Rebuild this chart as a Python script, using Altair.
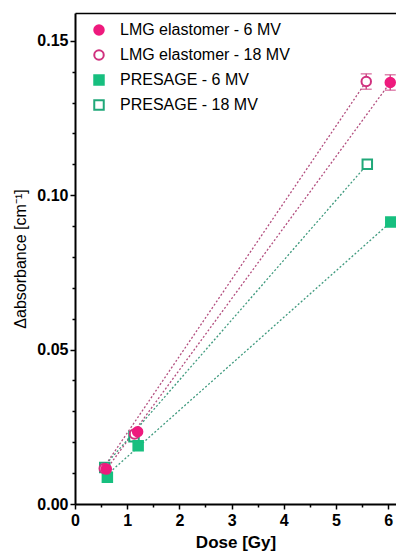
import altair as alt
import pandas as pd

# ---- data ----
series_names = ["LMG elastomer - 6 MV", "LMG elastomer - 18 MV", "PRESAGE - 6 MV", "PRESAGE - 18 MV"]
fill_colors = ["#ee1a7d", "#ffffff", "#17bf7f", "#ffffff"]
stroke_colors = ["#ee1a7d", "#d0307e", "#17bf7f", "#20a879"]
shapes = ["circle", "circle", "square", "square"]

dose_lmg6 = [0.60, 1.20, 6.04]
abs_lmg6 = [0.0113, 0.0234, 0.1365]
dose_lmg18 = [0.56, 1.14, 5.58]
abs_lmg18 = [0.0115, 0.0227, 0.1368]
dose_pr6 = [0.62, 1.21, 6.05]
abs_pr6 = [0.0087, 0.0189, 0.0913]
dose_pr18 = [0.57, 1.13, 5.60]
abs_pr18 = [0.0118, 0.0218, 0.1100]

# error bars (only visible on the highest LMG points)
err_dose = [6.04, 5.58]
err_center = [0.1365, 0.1368]
err_half = [0.0025, 0.0025]

# dotted fit lines: start / end points
fit_series = ["LMG elastomer - 6 MV", "LMG elastomer - 18 MV", "PRESAGE - 6 MV", "PRESAGE - 18 MV"]
fit_x0 = [0.55, 0.55, 0.55, 0.55]
fit_y0 = [0.0100, 0.0118, 0.0085, 0.0120]
fit_x1 = [6.04, 5.58, 6.05, 5.60]
fit_y1 = [0.1365, 0.1368, 0.0913, 0.1100]
fit_colors = ["#b34f7f", "#b34f7f", "#3f9a7e", "#3f9a7e"]

x_ticks = [0, 1, 2, 3, 4, 5, 6]
x_minor = [0.5, 1.5, 2.5, 3.5, 4.5, 5.5]
y_ticks = [0.0, 0.05, 0.10, 0.15]
y_minor = [0.01, 0.02, 0.03, 0.04, 0.06, 0.07, 0.08, 0.09, 0.11, 0.12, 0.13, 0.14]

# ---- tables ----
rows = []
order = [("PRESAGE - 18 MV", dose_pr18, abs_pr18), ("PRESAGE - 6 MV", dose_pr6, abs_pr6),
         ("LMG elastomer - 18 MV", dose_lmg18, abs_lmg18), ("LMG elastomer - 6 MV", dose_lmg6, abs_lmg6)]
for name, xs, ys in order:
    for xv, yv in zip(xs, ys):
        rows.append({"series": name, "dose": xv, "absorb": yv})
pts = pd.DataFrame(rows)

lines_rows = []
for s, a, b, c, d, col in zip(fit_series, fit_x0, fit_y0, fit_x1, fit_y1, fit_colors):
    lines_rows.append({"series": s, "dose": a, "absorb": b, "lc": col})
    lines_rows.append({"series": s, "dose": c, "absorb": d, "lc": col})
lines = pd.DataFrame(lines_rows)

err = pd.DataFrame({"dose": err_dose, "lo": [c - h for c, h in zip(err_center, err_half)],
                    "hi": [c + h for c, h in zip(err_center, err_half)]})

FONT = "Liberation Sans"
xscale = alt.Scale(domain=[0, 6.15], nice=False, zero=False)
yscale = alt.Scale(domain=[0, 0.159], nice=False, zero=False)

x_axis = alt.Axis(values=x_ticks, format="d", title="Dose [Gy]", orient="bottom",
                  labelFont=FONT, labelFontSize=16, labelFontWeight="bold", labelColor="black",
                  titleFont=FONT, titleFontSize=17, titleFontWeight="bold", titleColor="black",
                  domainColor="black", domainWidth=2, tickColor="black", tickWidth=1.5, tickSize=5,
                  grid=False, labelPadding=3, titlePadding=6, labelFlush=False)
y_axis = alt.Axis(values=y_ticks, format=".2f", title="Δabsorbance [cm⁻¹]", orient="left",
                  labelFont=FONT, labelFontSize=16, labelFontWeight="bold", labelColor="black",
                  titleFont=FONT, titleFontSize=16, titleFontWeight="normal", titleColor="black",
                  domainColor="black", domainWidth=2, tickColor="black", tickWidth=1.5, tickSize=5,
                  grid=False, labelPadding=2, titlePadding=8, labelFlush=False)
x_axis_minor = alt.Axis(values=x_minor, labels=False, title=None, orient="bottom", domain=False,
                        tickColor="black", tickWidth=1.5, tickSize=3, grid=False)
y_axis_minor = alt.Axis(values=y_minor, labels=False, title=None, orient="left", domain=False,
                        tickColor="black", tickWidth=1.5, tickSize=3, grid=False)
x_axis_top = alt.Axis(labels=False, ticks=False, title=None, orient="top", domain=True,
                      domainColor="black", domainWidth=1.5, grid=False)

line_layer = alt.Chart(lines).mark_line(strokeDash=[2, 2], strokeWidth=1.3).encode(
    x=alt.X("dose:Q", scale=xscale, axis=x_axis),
    y=alt.Y("absorb:Q", scale=yscale, axis=y_axis),
    detail="series:N",
    color=alt.Color("lc:N", scale=None),
)

minor_layer = alt.Chart(lines).mark_line(opacity=0).encode(
    x=alt.X("dose:Q", scale=xscale, axis=x_axis_minor),
    y=alt.Y("absorb:Q", scale=yscale, axis=y_axis_minor),
    detail="series:N",
)

top_layer = alt.Chart(lines).mark_line(opacity=0).encode(
    x=alt.X("dose:Q", scale=xscale, axis=x_axis_top),
    y=alt.Y("absorb:Q", scale=yscale, axis=None),
    detail="series:N",
)

ecol = "#d0508c"
err_rule = alt.Chart(err).mark_rule(color=ecol, strokeWidth=1.5).encode(
    x=alt.X("dose:Q", axis=None), y=alt.Y("lo:Q", axis=None), y2="hi:Q")
err_cap_lo = alt.Chart(err).mark_tick(color=ecol, orient="horizontal", size=11, thickness=1.5).encode(
    x=alt.X("dose:Q", axis=None), y=alt.Y("lo:Q", axis=None))
err_cap_hi = alt.Chart(err).mark_tick(color=ecol, orient="horizontal", size=11, thickness=1.5).encode(
    x=alt.X("dose:Q", axis=None), y=alt.Y("hi:Q", axis=None))

legend = alt.Legend(title=None, orient="none", legendX=16, legendY=9, labelFont=FONT,
                    labelFontSize=16, labelColor="black", symbolSize=90, symbolStrokeWidth=2,
                    rowPadding=7, labelOffset=13, padding=0, labelLimit=400)

point_layer = alt.Chart(pts).mark_point(size=90, strokeWidth=2, opacity=1).encode(
    x=alt.X("dose:Q", axis=None),
    y=alt.Y("absorb:Q", axis=None),
    fill=alt.Fill("series:N", scale=alt.Scale(domain=series_names, range=fill_colors), legend=legend),
    stroke=alt.Stroke("series:N", scale=alt.Scale(domain=series_names, range=stroke_colors), legend=legend),
    shape=alt.Shape("series:N", scale=alt.Scale(domain=series_names, range=shapes), legend=legend),
)

chart = alt.layer(line_layer, minor_layer, top_layer, err_rule, err_cap_lo, err_cap_hi,
                  point_layer).resolve_axis(
    x="independent", y="independent"
).properties(
    width=321, height=491,
    autosize=alt.AutoSizeParams(type="none"),
    padding={"left": 67, "top": 5, "right": 0, "bottom": 47},
    background="white",
).configure_view(strokeWidth=0)

chart.save("out.html", embed_options={"renderer": "svg", "actions": False})
